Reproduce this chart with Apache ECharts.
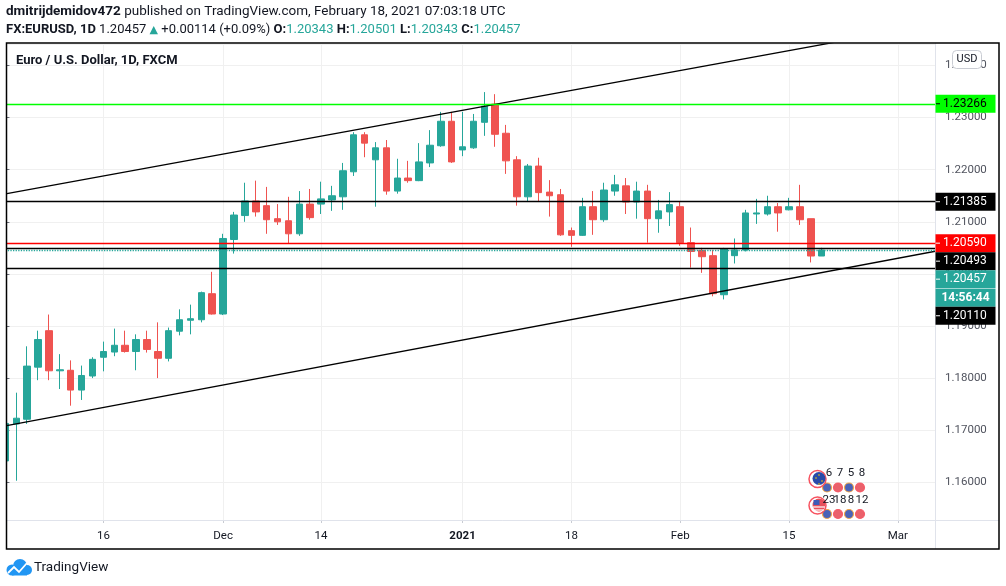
<!DOCTYPE html>
<html>
<head>
<meta charset="utf-8">
<title>EURUSD 1D</title>
<script src="https://cdn.jsdelivr.net/npm/echarts@6/dist/echarts.min.js"></script>
<style>
  html, body { margin: 0; padding: 0; background: #fff; }
  #chart { width: 1006px; height: 586px; }
</style>
</head>
<body>
<div id="chart"></div>
<script>
// FXCM daily bars, the last ten dates are empty slots on the right
const dates = [
  '2020-11-03','2020-11-04','2020-11-05','2020-11-06',
  '2020-11-09','2020-11-10','2020-11-11','2020-11-12','2020-11-13',
  '2020-11-16','2020-11-17','2020-11-18','2020-11-19','2020-11-20',
  '2020-11-23','2020-11-24','2020-11-25','2020-11-26','2020-11-27',
  '2020-11-30','2020-12-01','2020-12-02','2020-12-03','2020-12-04',
  '2020-12-07','2020-12-08','2020-12-09','2020-12-10','2020-12-11',
  '2020-12-14','2020-12-15','2020-12-16','2020-12-17','2020-12-18',
  '2020-12-21','2020-12-22','2020-12-23','2020-12-24',
  '2020-12-28','2020-12-29','2020-12-30','2020-12-31',
  '2021-01-04','2021-01-05','2021-01-06','2021-01-07','2021-01-08',
  '2021-01-11','2021-01-12','2021-01-13','2021-01-14','2021-01-15',
  '2021-01-18','2021-01-19','2021-01-20','2021-01-21','2021-01-22',
  '2021-01-25','2021-01-26','2021-01-27','2021-01-28','2021-01-29',
  '2021-02-01','2021-02-02','2021-02-03','2021-02-04','2021-02-05',
  '2021-02-08','2021-02-09','2021-02-10','2021-02-11','2021-02-12',
  '2021-02-15','2021-02-16','2021-02-17','2021-02-18',
  '2021-02-19','2021-02-22','2021-02-23','2021-02-24','2021-02-25',
  '2021-02-26','2021-03-01','2021-03-02','2021-03-03','2021-03-04'
];

const opens = [
  1.1641,1.1712,1.1721,1.1821,1.1891,1.1814,1.1815,1.1777,1.1804,1.1840,
  1.1850,1.1863,1.1851,1.1874,1.1851,1.1838,1.1890,1.1911,1.1912,1.1962,
  1.1923,1.2066,1.2112,1.2140,1.2131,1.2106,1.2102,1.2077,1.2134,1.2134,
  1.2142,1.2148,1.2196,1.2267,1.2219,1.2242,1.2159,1.2184,1.2179,1.2213,
  1.2246,1.2293,1.2238,1.2242,1.2291,1.2326,1.2270,1.2219,1.2148,1.2207,
  1.2157,1.2152,1.2083,1.2074,1.2129,1.2104,1.2159,1.2169,1.2138,1.2159,
  1.2106,1.2119,1.2129,1.2060,1.2045,1.2035,1.1960,1.2035,1.2046,1.2115,
  1.2115,1.2129,1.2123,1.2129,1.2106,1.20343
];
const highs = [
  1.1715,1.1772,1.1861,1.1891,1.1922,1.1846,1.1834,1.1824,1.1840,1.1870,
  1.1895,1.1891,1.1884,1.1891,1.1907,1.1897,1.1932,1.1941,1.1966,1.2004,
  1.2077,1.2119,1.2175,1.2179,1.2167,1.2134,1.2148,1.2159,1.2163,1.2177,
  1.2169,1.2213,1.2272,1.2272,1.2253,1.2257,1.2221,1.2217,1.2251,1.2276,
  1.2311,1.2311,1.2311,1.2307,1.2349,1.2345,1.2286,1.2226,1.2211,1.2223,
  1.2180,1.2163,1.2089,1.2146,1.2159,1.2175,1.2190,1.2184,1.2177,1.2171,
  1.2142,1.2157,1.2138,1.2089,1.2050,1.2046,1.2050,1.2068,1.2123,1.2144,
  1.2150,1.2136,1.2146,1.2171,1.2106,1.20501
];
const lows = [
  1.1640,1.1603,1.1712,1.1796,1.1796,1.1779,1.1747,1.1758,1.1800,1.1813,
  1.1842,1.1849,1.1815,1.1849,1.1800,1.1832,1.1882,1.1884,1.1907,1.1922,
  1.1921,1.2039,1.2100,1.2110,1.2077,1.2094,1.2058,1.2073,1.2104,1.2115,
  1.2121,1.2123,1.2188,1.2224,1.2129,1.2152,1.2154,1.2175,1.2178,1.2205,
  1.2244,1.2213,1.2226,1.2240,1.2265,1.2244,1.2192,1.2131,1.2138,1.2138,
  1.2110,1.2073,1.2052,1.2073,1.2075,1.2100,1.2150,1.2115,1.2106,1.2060,
  1.2079,1.2092,1.2054,1.2012,1.2002,1.1957,1.1951,1.2020,1.2043,1.2096,
  1.2112,1.2081,1.2122,1.2094,1.2022,1.20343
];
const closes = [
  1.1713,1.1723,1.1823,1.1874,1.1814,1.1816,1.1777,1.1805,1.1836,1.1851,
  1.1863,1.1851,1.1874,1.1855,1.1838,1.1891,1.1912,1.1914,1.1964,1.1923,
  1.2068,1.2113,1.2140,1.2119,1.2104,1.2100,1.2077,1.2134,1.2108,1.2144,
  1.2150,1.2198,1.2267,1.2251,1.2242,1.2159,1.2184,1.2179,1.2215,1.2247,
  1.2293,1.2215,1.2244,1.2293,1.2322,1.2268,1.2217,1.2148,1.2207,1.2156,
  1.2150,1.2075,1.2074,1.2129,1.2104,1.2161,1.2171,1.2138,1.2159,1.2106,
  1.2121,1.2133,1.2060,1.2043,1.2033,1.1962,1.2048,1.2046,1.2117,1.2117,
  1.2129,1.2117,1.2129,1.2104,1.20343,1.20457
];

// x axis labels
const tickDates = ['2020-11-16','2020-12-01','2020-12-14','2021-01-04','2021-01-18','2021-02-01','2021-02-15','2021-03-01'];
const tickTexts = ['16','Dec','14','2021','18','Feb','15','Mar'];

// horizontal levels drawn by the author
const levelPrices = [1.23266, 1.21385, 1.20590, 1.20493, 1.20110];
const levelColors = ['#00ff00', '#000000', '#ff0000', '#000000', '#000000'];
const levelTextColors = ['#000000', '#ffffff', '#ffffff', '#ffffff', '#ffffff'];

// channel lines: [bar index, price]
const upperLine = [[0, 1.21536], [86, 1.24821]];
const lowerLine = [[0, 1.17083], [86, 1.20457]];

// upcoming economic events counts
const euEvents = ['6', '7', '5', '8'];
const usEvents = ['23', '18', '8', '12'];

const countdown = '14:56:44';

const UP = '#26a69a';
const DOWN = '#ef5350';
const FONT = 'Roboto';

const candles = opens.map((o, i) => [o, closes[i], lows[i], highs[i]]);
const last = closes.length - 1;
const lastClose = closes[last];
const change = lastClose - closes[last - 1];
const changePct = change / closes[last - 1] * 100;

const isTick = (i, v) => tickDates.indexOf(v) >= 0;

const chart = echarts.init(document.getElementById('chart'));

const option = {
  animation: false,
  backgroundColor: '#ffffff',
  grid: { left: 0, right: 70, top: 44, bottom: 66, containLabel: false, outerBoundsMode: 'none' },
  xAxis: [
    {
      type: 'category',
      data: dates,
      boundaryGap: true,
      axisLine: { show: false },
      axisTick: { show: true, alignWithLabel: true, interval: isTick, length: 3, lineStyle: { color: '#c8cbd2' } },
      axisLabel: {
        interval: isTick,
        margin: 10,
        color: '#131722',
        fontSize: 11.5,
        fontFamily: FONT,
        formatter: v => {
          const t = tickTexts[tickDates.indexOf(v)];
          return t === '2021' ? '{y|' + t + '}' : t;
        },
        rich: { y: { fontWeight: 'bold', fontSize: 11.5, fontFamily: FONT, color: '#131722' } }
      },
      splitLine: { show: true, interval: isTick, alignWithLabel: true, lineStyle: { color: '#f0f0f0', width: 1 } }
    },
    { type: 'value', gridIndex: 0, min: -0.5, max: dates.length - 0.5, show: false }
  ],
  yAxis: {
    type: 'value',
    position: 'right',
    min: 1.15276,
    max: 1.24413,
    splitNumber: 9,
    axisLine: { show: false },
    axisTick: { show: true, length: 4, lineStyle: { color: '#6a6d78' } },
    axisLabel: {
      margin: 9,
      color: '#50535e',
      fontSize: 11.5,
      fontFamily: FONT,
      showMinLabel: false,
      showMaxLabel: false,
      formatter: v => v.toFixed(5)
    },
    splitLine: { lineStyle: { color: '#f0f0f0', width: 1 } }
  },
  series: [
    {
      type: 'candlestick',
      data: candles,
      barWidth: 7,
      itemStyle: {
        color: UP, color0: DOWN,
        borderColor: UP, borderColor0: DOWN,
        borderColorDoji: UP,
        borderWidth: 1
      },
      markLine: {
        silent: true,
        animation: false,
        precision: 5,
        symbol: ['none', 'none'],
        label: { show: false },
        data: levelPrices.map((p, i) => ({
          yAxis: p,
          lineStyle: { color: levelColors[i], width: 1.3, type: 'solid' }
        })).concat([{ yAxis: lastClose, lineStyle: { color: UP, width: 1.3, type: 'dotted' } }])
      }
    },
    {
      type: 'line', xAxisIndex: 1, data: upperLine, symbol: 'none', silent: true, z: 4,
      lineStyle: { color: '#000000', width: 1.3 }
    },
    {
      type: 'line', xAxisIndex: 1, data: lowerLine, symbol: 'none', silent: true, z: 4,
      lineStyle: { color: '#000000', width: 1.3 }
    }
  ]
};

chart.setOption(option);

// price labels on the right axis, stacked when they collide
const labels = levelPrices.map((p, i) => ({ price: p, bg: levelColors[i], fg: levelTextColors[i] }));
labels.push({ price: lastClose, bg: UP, fg: '#ffffff', sub: countdown });
labels.forEach(l => { l.y = chart.convertToPixel({ yAxisIndex: 0 }, l.price); });
labels.sort((a, b) => a.y - b.y);

const g = [];
const LH = 18;
let bottom = -Infinity;
labels.forEach(l => {
  const top = Math.max(l.y - LH / 2, bottom);
  g.push({ type: 'rect', z: 110, shape: { x: 935.5, y: top, width: 60, height: LH }, style: { fill: l.bg } });
  g.push({ type: 'line', z: 111, shape: { x1: 936, y1: top + LH / 2, x2: 940, y2: top + LH / 2 }, style: { stroke: l.fg, lineWidth: 1 } });
  g.push({ type: 'text', z: 111, style: { x: 943, y: top + LH / 2, text: l.price.toFixed(5), fill: l.fg, font: '12px ' + FONT, textAlign: 'left', textVerticalAlign: 'middle' } });
  bottom = top + LH;
  if (l.sub) {
    const t2 = bottom + 0.6;
    g.push({ type: 'rect', z: 110, shape: { x: 935.5, y: t2, width: 60, height: LH }, style: { fill: l.bg } });
    g.push({ type: 'text', z: 111, style: { x: 965.5, y: t2 + LH / 2, text: l.sub, fill: l.fg, font: 'bold 12px ' + FONT, textAlign: 'center', textVerticalAlign: 'middle' } });
    bottom = t2 + LH;
  }
});

// mask the half-bar left of the frame
g.push({ type: 'rect', z: 100, shape: { x: 0, y: 40, width: 6, height: 515 }, style: { fill: '#ffffff' } });
// axis separators and frame
g.push({ type: 'line', z: 101, shape: { x1: 6, y1: 520.5, x2: 999, y2: 520.5 }, style: { stroke: '#e0e3eb', lineWidth: 1 } });
g.push({ type: 'line', z: 101, shape: { x1: 935.5, y1: 43, x2: 935.5, y2: 549 }, style: { stroke: '#e0e3eb', lineWidth: 1 } });
g.push({ type: 'rect', z: 120, shape: { x: 6.5, y: 43, width: 992.5, height: 506 }, style: { fill: 'none', stroke: '#000000', lineWidth: 1.5 } });

// currency button
g.push({ type: 'rect', z: 120, shape: { x: 952.5, y: 50.5, width: 29, height: 18, r: 4 }, style: { fill: '#ffffff', stroke: '#c9ccd3', lineWidth: 1 } });
g.push({ type: 'text', z: 121, style: { x: 967, y: 59.5, text: 'USD', fill: '#131722', font: '11px ' + FONT, textAlign: 'center', textVerticalAlign: 'middle' } });

// header
g.push({
  type: 'text', z: 120,
  style: {
    x: 6, y: 12, textVerticalAlign: 'middle',
    text: '{a|dmitrijdemidov472}{b| published on TradingView.com, February 18, 2021 07:03:18 UTC}',
    rich: {
      a: { fontSize: 13.5, fontWeight: 'bold', fontFamily: FONT, fill: '#131722' },
      b: { fontSize: 13.5, fontFamily: FONT, fill: '#131722' }
    }
  }
});
g.push({
  type: 'text', z: 120,
  style: {
    x: 6, y: 30, textVerticalAlign: 'middle',
    text: '{a|FX:EURUSD, 1D}{b| ' + lastClose.toFixed(5) + ' }{t|▲}{b| ' +
      (change >= 0 ? '+' : '') + change.toFixed(5) + ' (' + (changePct >= 0 ? '+' : '') + changePct.toFixed(2) + '%) }' +
      '{a|O:}{g|' + opens[last].toFixed(5) + '}{a| H:}{g|' + highs[last].toFixed(5) + '}' +
      '{a| L:}{g|' + lows[last].toFixed(5) + '}{a| C:}{g|' + lastClose.toFixed(5) + '}',
    rich: {
      a: { fontSize: 13, fontWeight: 'bold', fontFamily: FONT, fill: '#131722' },
      b: { fontSize: 13, fontFamily: FONT, fill: '#131722' },
      t: { fontSize: 11, fontFamily: 'DejaVu Sans', fill: UP },
      g: { fontSize: 13, fontFamily: FONT, fill: UP }
    }
  }
});
g.push({ type: 'text', z: 120, style: { x: 16, y: 61, text: 'Euro / U.S. Dollar, 1D, FXCM', fill: '#131722', font: 'bold 13px ' + FONT, textVerticalAlign: 'middle' } });

// economic events markers (EU and US)
function eventRow(cy, flag, nums) {
  nums.forEach((n, k) => {
    const cx = 827 + k * 11;
    g.push({ type: 'circle', z: 112, shape: { cx: cx, cy: cy + 9, r: 4.5 }, style: { fill: k % 2 ? '#e8505b' : '#3552b0', stroke: k % 2 ? '#f7525f' : '#f7a33a', lineWidth: 1.2, opacity: 0.9 } });
    g.push({ type: 'text', z: 114, style: { x: cx + 2, y: cy - 5, text: n, fill: '#131722', font: '11.5px ' + FONT, textAlign: 'center', textVerticalAlign: 'middle' } });
  });
  g.push({ type: 'circle', z: 113, shape: { cx: 817.5, cy: cy + 0.5, r: 8.5 }, style: { fill: 'none', stroke: '#f7525f', lineWidth: 1.5 } });
  g.push({ type: 'circle', z: 113, shape: { cx: 819, cy: cy, r: 6.5 }, style: { fill: flag } });
}
eventRow(478.5, '#2a4aa8', euEvents);
eventRow(505, '#e8505b', usEvents);
[475, 478, 481, 484].forEach(y => {
  g.push({ type: 'circle', z: 114, shape: { cx: 819 + (y === 475 || y === 484 ? 0 : (y === 478 ? -3 : 3)), cy: y, r: 0.8 }, style: { fill: '#ffd200' } });
});
g.push({ type: 'line', z: 114, shape: { x1: 813, y1: 507, x2: 825, y2: 507 }, style: { stroke: '#ffffff', lineWidth: 1.2 } });
g.push({ type: 'line', z: 114, shape: { x1: 814, y1: 510, x2: 824, y2: 510 }, style: { stroke: '#ffffff', lineWidth: 1.2 } });
g.push({ type: 'rect', z: 114, shape: { x: 813.5, y: 500, width: 6, height: 5 }, style: { fill: '#3d5bb8' } });

// footer logo
g.push({ type: 'circle', z: 120, shape: { cx: 12, cy: 570, r: 5.5 }, style: { fill: '#2196f3' } });
g.push({ type: 'circle', z: 120, shape: { cx: 20, cy: 566, r: 7 }, style: { fill: '#2196f3' } });
g.push({ type: 'circle', z: 120, shape: { cx: 27, cy: 570, r: 5 }, style: { fill: '#2196f3' } });
g.push({ type: 'rect', z: 120, shape: { x: 12, y: 569, width: 15, height: 6.5 }, style: { fill: '#2196f3' } });
g.push({ type: 'polyline', z: 121, shape: { points: [[8, 573], [14, 567], [19, 572], [27, 563]] }, style: { stroke: '#ffffff', lineWidth: 1.8, fill: 'none' } });
g.push({ type: 'text', z: 120, style: { x: 34, y: 567.5, text: 'TradingView', fill: '#131722', font: '13.5px ' + FONT, textVerticalAlign: 'middle' } });

chart.setOption({ graphic: g });
</script>
</body>
</html>
